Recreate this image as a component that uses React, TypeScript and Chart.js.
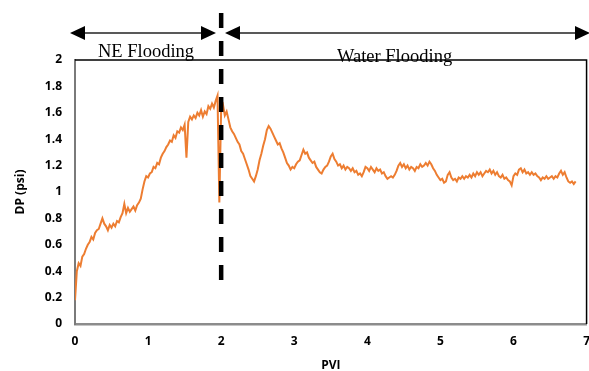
import React, { useEffect, useRef } from "react";
import { Chart, registerables } from "chart.js";

Chart.register(...registerables);

const PVI_STEP = 0.025;

// DP (psi), one value every PVI_STEP from PVI = 0
const DP_NE_0 = [
  0.18, 0.40, 0.46, 0.44, 0.51, 0.53, 0.57, 0.60, 0.62, 0.66,
  0.64, 0.69, 0.71, 0.72, 0.76, 0.80, 0.76, 0.74, 0.71, 0.75,
];
const DP_NE_1 = [
  0.73, 0.76, 0.74, 0.78, 0.77, 0.81, 0.84, 0.91, 0.84, 0.88,
  0.85, 0.87, 0.89, 0.86, 0.90, 0.92, 0.95, 1.02, 1.08, 1.12,
];
const DP_NE_2 = [
  1.11, 1.14, 1.15, 1.19, 1.18, 1.22, 1.21, 1.26, 1.29, 1.31,
  1.34, 1.36, 1.39, 1.38, 1.43, 1.41, 1.46, 1.45, 1.49, 1.47,
];
const DP_NE_3 = [
  1.51, 1.26, 1.53, 1.57, 1.55, 1.58, 1.56, 1.60, 1.58, 1.62,
  1.57, 1.61, 1.59, 1.65, 1.63, 1.67, 1.64, 1.69, 1.73, 0.92,
];
const DP_WF_0 = [
  1.63, 1.66, 1.58, 1.61, 1.55, 1.49, 1.46, 1.44, 1.41, 1.38,
  1.36, 1.31, 1.29, 1.25, 1.21, 1.17, 1.12, 1.10, 1.08, 1.12,
];
const DP_WF_1 = [
  1.17, 1.24, 1.29, 1.35, 1.40, 1.47, 1.50, 1.48, 1.45, 1.42,
  1.39, 1.36, 1.37, 1.33, 1.30, 1.26, 1.22, 1.20, 1.17, 1.19,
];
const DP_WF_2 = [
  1.18, 1.21, 1.23, 1.24, 1.28, 1.32, 1.29, 1.30, 1.26, 1.24,
  1.22, 1.23, 1.19, 1.17, 1.15, 1.14, 1.17, 1.19, 1.20, 1.23,
];
const DP_WF_3 = [
  1.27, 1.29, 1.25, 1.23, 1.20, 1.21, 1.18, 1.20, 1.17, 1.19,
  1.18, 1.16, 1.18, 1.15, 1.16, 1.13, 1.14, 1.12, 1.15, 1.19,
];
const DP_WF_4 = [
  1.18, 1.16, 1.19, 1.17, 1.15, 1.18, 1.16, 1.17, 1.14, 1.15,
  1.12, 1.10, 1.11, 1.12, 1.11, 1.13, 1.16, 1.20, 1.22, 1.19,
];
const DP_WF_5 = [
  1.21, 1.18, 1.20, 1.17, 1.19, 1.18, 1.16, 1.19, 1.18, 1.21,
  1.19, 1.20, 1.22, 1.20, 1.23, 1.21, 1.18, 1.16, 1.13, 1.11,
];
const DP_WF_6 = [
  1.09, 1.10, 1.07, 1.08, 1.13, 1.15, 1.11, 1.09, 1.10, 1.08,
  1.11, 1.10, 1.12, 1.10, 1.12, 1.11, 1.13, 1.11, 1.14, 1.12,
];
const DP_WF_7 = [
  1.15, 1.13, 1.15, 1.12, 1.14, 1.16, 1.15, 1.17, 1.14, 1.16,
  1.13, 1.15, 1.12, 1.11, 1.13, 1.10, 1.11, 1.09, 1.08, 1.05,
];
const DP_WF_8 = [
  1.12, 1.14, 1.13, 1.17, 1.18, 1.15, 1.17, 1.14, 1.15, 1.13,
  1.15, 1.13, 1.14, 1.12, 1.11, 1.09, 1.11, 1.10, 1.12, 1.10,
];
const DP_WF_9 = [
  1.11, 1.12, 1.10, 1.12, 1.11, 1.14, 1.16, 1.13, 1.15, 1.11,
  1.08, 1.07, 1.08, 1.06, 1.08,
];

const DP = [
  ...DP_NE_0, ...DP_NE_1, ...DP_NE_2, ...DP_NE_3,
  ...DP_WF_0, ...DP_WF_1, ...DP_WF_2, ...DP_WF_3, ...DP_WF_4,
  ...DP_WF_5, ...DP_WF_6, ...DP_WF_7, ...DP_WF_8, ...DP_WF_9,
];

const X_MIN = 0;
const X_MAX = 7;
const Y_MIN = 0;
const Y_MAX = 2;
const DIVIDER_PVI = 2.0;
const LABEL_NE = "NE Flooding";
const LABEL_WF = "Water Flooding";

function arrowHead(ctx: CanvasRenderingContext2D, tipX: number, y: number, dir: number) {
  const len = 15;
  const half = 7;
  ctx.beginPath();
  ctx.moveTo(tipX, y);
  ctx.lineTo(tipX - dir * len, y - half);
  ctx.lineTo(tipX - dir * len, y + half);
  ctx.closePath();
  ctx.fill();
}

function doubleArrow(ctx: CanvasRenderingContext2D, x1: number, x2: number, y: number) {
  ctx.beginPath();
  ctx.moveTo(x1 + 10, y);
  ctx.lineTo(x2 - 10, y);
  ctx.stroke();
  arrowHead(ctx, x1, y, -1);
  arrowHead(ctx, x2, y, 1);
}

const overlay = {
  id: "overlay",
  afterDraw(chart: any) {
    const { ctx, chartArea: a, scales } = chart;
    ctx.save();
    // top/right frame
    ctx.strokeStyle = "#000";
    ctx.lineWidth = 1.5;
    ctx.beginPath();
    ctx.moveTo(a.left, a.top);
    ctx.lineTo(a.right, a.top);
    ctx.lineTo(a.right, a.bottom);
    ctx.stroke();

    // dashed divider
    const dx = scales.x.getPixelForValue(DIVIDER_PVI);
    ctx.setLineDash([15, 13]);
    ctx.lineWidth = 4.5;
    ctx.strokeStyle = "#000";
    ctx.beginPath();
    ctx.moveTo(dx, 13);
    ctx.lineTo(dx, 280);
    ctx.stroke();
    ctx.setLineDash([]);

    // arrows
    ctx.strokeStyle = "#222";
    ctx.fillStyle = "#000";
    ctx.lineWidth = 1.5;
    doubleArrow(ctx, 70, 216, 33);
    doubleArrow(ctx, 225, 590, 33);

    // labels
    ctx.fillStyle = "#000";
    ctx.font = '18.5px "Liberation Serif", "Times New Roman", serif';
    ctx.textAlign = "left";
    ctx.textBaseline = "alphabetic";
    ctx.fillText(LABEL_NE, 98, 57);
    ctx.fillText(LABEL_WF, 337, 62);
    ctx.restore();
  },
};

export default function App() {
  const ref = useRef<HTMLCanvasElement>(null);
  useEffect(() => {
    if (!ref.current) return;
    const points = DP.map((v, i) => ({ x: i * PVI_STEP, y: v }));
    const tickFont = { family: '"Open Sans", sans-serif', size: 12, weight: "bold" as const };
    const chart = new Chart(ref.current, {
      type: "line",
      data: {
        datasets: [
          {
            data: points,
            borderColor: "#ED7D31",
            backgroundColor: "#ED7D31",
            borderWidth: 2,
            pointRadius: 0,
            tension: 0,
            fill: false,
          },
        ],
      },
      options: {
        animation: false,
        responsive: false,
        devicePixelRatio: 1,
        layout: { padding: { top: 60, right: 13, left: 0, bottom: 0 } },
        plugins: { legend: { display: false }, tooltip: { enabled: false } },
        scales: {
          x: {
            type: "linear",
            min: X_MIN,
            max: X_MAX,
            grid: { display: false, drawTicks: false },
            border: { display: true, color: "#8c8c8c", width: 2.5 },
            ticks: { stepSize: 1, color: "#000", font: tickFont, padding: 10, maxRotation: 0 },
            title: {
              display: true,
              text: "PVI",
              color: "#000",
              font: tickFont,
              padding: { top: 0, bottom: -2 },
            },
            afterFit: (s: any) => {
              s.height = 47;
            },
          },
          y: {
            min: Y_MIN,
            max: Y_MAX,
            grid: { display: false, drawTicks: false },
            border: { display: true, color: "#7a7a7a", width: 2 },
            ticks: {
              stepSize: 0.2,
              color: "#000",
              font: tickFont,
              padding: 13,
              callback: (v: any) => String(Math.round(Number(v) * 10) / 10),
            },
            title: {
              display: true,
              text: "DP (psi)",
              color: "#000",
              font: tickFont,
              padding: { top: 13, bottom: 0 },
            },
            afterFit: (s: any) => {
              s.width = 75;
            },
          },
        },
      },
      plugins: [overlay],
    });
    return () => chart.destroy();
  }, []);
  return (
    <div
      style={{
        position: "fixed",
        left: 0,
        top: 0,
        width: 589,
        height: 371,
        overflow: "hidden",
        background: "#fff",
      }}
    >
      <canvas ref={ref} width={600} height={371} style={{ width: 600, height: 371, display: "block" }} />
    </div>
  );
}
